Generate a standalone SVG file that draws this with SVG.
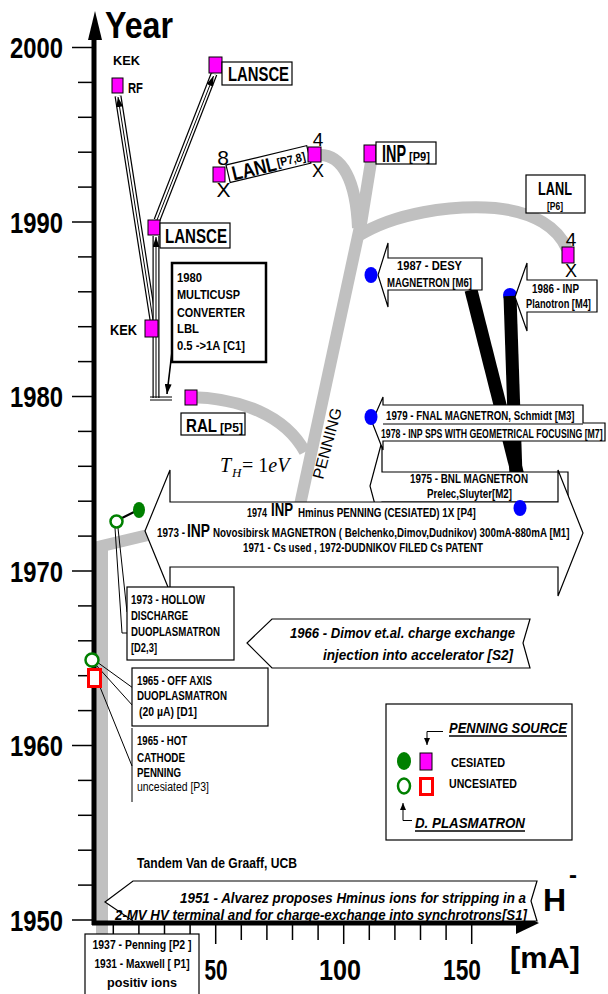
<svg xmlns="http://www.w3.org/2000/svg" width="608" height="994" viewBox="0 0 608 994">
<style>
text{font-family:"Liberation Sans",Arial,sans-serif;font-weight:bold;fill:#000}
.n{font-weight:normal}
.bi{font-style:italic}
.sq{fill:#ff00ff;stroke:#000;stroke-width:1}
.box{fill:#fff;stroke:#000;stroke-width:1.2}
.gray{fill:none;stroke:#c0c0c0;stroke-width:12}
.blk{fill:none;stroke:#000;stroke-width:13}
.tick{stroke:#000;stroke-width:1.5}
.blue{fill:#0000ff}
.t1{fill:none;stroke:#000;stroke-width:7}
.t2{fill:none;stroke:#fff;stroke-width:4.6}
.t3{fill:none;stroke:#000;stroke-width:1}
.ln{fill:none;stroke:#000;stroke-width:1}
.serif{font-family:"Liberation Serif","Times New Roman",serif;font-weight:normal}
</style>
<defs>
<marker id="ah" markerUnits="userSpaceOnUse" markerWidth="11" markerHeight="7" refX="10" refY="3.5" orient="auto"><path d="M0,0 L10,3.5 L0,7 z" fill="#000"/></marker>
<marker id="ahs" markerUnits="userSpaceOnUse" markerWidth="8" markerHeight="6" refX="7" refY="3" orient="auto"><path d="M0,0 L7,3 L0,6 z" fill="#000"/></marker>
</defs>
<rect x="0" y="0" width="608" height="994" fill="#fff"/>

<g id="penning-lines">
<path class="gray" d="M102,948 V546 L148,535"/>
<path class="gray" d="M189,397 C240,398 285,415 305,452"/>
<path class="gray" d="M361,222 L300,505" stroke-width="13"/>
<path class="gray" d="M320,155 C342,155 356,180 358,228"/>
<path class="gray" d="M371,162 L360,230"/>
<path class="gray" d="M358,236 C395,213 450,205 495,208 C535,212 558,228 567,249"/>
</g>

<g id="axes">
<line x1="94" y1="925" x2="94" y2="36" stroke="#000" stroke-width="5"/>
<polygon points="95,11 88,40 102,40" fill="#000"/>
<text x="105" y="38" font-size="36" textLength="68" lengthAdjust="spacingAndGlyphs">Year</text>
<g class="tick">
<line x1="72" y1="47.5" x2="92" y2="47.5"/><line x1="78" y1="82.4" x2="92" y2="82.4"/><line x1="78" y1="117.3" x2="92" y2="117.3"/><line x1="78" y1="152.2" x2="92" y2="152.2"/><line x1="78" y1="187.1" x2="92" y2="187.1"/>
<line x1="72" y1="222" x2="92" y2="222"/><line x1="78" y1="256.9" x2="92" y2="256.9"/><line x1="78" y1="291.8" x2="92" y2="291.8"/><line x1="78" y1="326.7" x2="92" y2="326.7"/><line x1="78" y1="361.6" x2="92" y2="361.6"/>
<line x1="72" y1="396.5" x2="92" y2="396.5"/><line x1="78" y1="431.4" x2="92" y2="431.4"/><line x1="78" y1="466.3" x2="92" y2="466.3"/><line x1="78" y1="501.2" x2="92" y2="501.2"/><line x1="78" y1="536.1" x2="92" y2="536.1"/>
<line x1="72" y1="571" x2="92" y2="571"/><line x1="78" y1="605.9" x2="92" y2="605.9"/><line x1="78" y1="640.8" x2="92" y2="640.8"/><line x1="78" y1="675.7" x2="92" y2="675.7"/><line x1="78" y1="710.6" x2="92" y2="710.6"/>
<line x1="72" y1="745.5" x2="92" y2="745.5"/><line x1="78" y1="780.4" x2="92" y2="780.4"/><line x1="78" y1="815.3" x2="92" y2="815.3"/><line x1="78" y1="850.2" x2="92" y2="850.2"/><line x1="78" y1="885.1" x2="92" y2="885.1"/>
<line x1="72" y1="920" x2="92" y2="920"/>
</g>
<g font-size="29">
<text x="10" y="58" textLength="53" lengthAdjust="spacingAndGlyphs">2000</text>
<text x="10" y="232.5" textLength="53" lengthAdjust="spacingAndGlyphs">1990</text>
<text x="10" y="407" textLength="53" lengthAdjust="spacingAndGlyphs">1980</text>
<text x="10" y="581.5" textLength="53" lengthAdjust="spacingAndGlyphs">1970</text>
<text x="10" y="756" textLength="53" lengthAdjust="spacingAndGlyphs">1960</text>
<text x="10" y="930.5" textLength="53" lengthAdjust="spacingAndGlyphs">1950</text>
</g>
<line x1="92" y1="923" x2="520" y2="923" stroke="#000" stroke-width="5"/>
<polygon points="516,912 539,923 516,934" fill="#000"/>
<g class="tick">
<line x1="113.3" y1="925" x2="113.3" y2="940"/><line x1="138.9" y1="925" x2="138.9" y2="940"/><line x1="164.5" y1="925" x2="164.5" y2="940"/><line x1="190.1" y1="925" x2="190.1" y2="940"/><line x1="215.7" y1="925" x2="215.7" y2="944"/>
<line x1="241.3" y1="925" x2="241.3" y2="940"/><line x1="266.9" y1="925" x2="266.9" y2="940"/><line x1="292.5" y1="925" x2="292.5" y2="940"/><line x1="318.1" y1="925" x2="318.1" y2="940"/><line x1="343.7" y1="925" x2="343.7" y2="944"/>
<line x1="369.3" y1="925" x2="369.3" y2="940"/><line x1="394.9" y1="925" x2="394.9" y2="940"/><line x1="420.5" y1="925" x2="420.5" y2="940"/><line x1="446.1" y1="925" x2="446.1" y2="940"/><line x1="471.7" y1="925" x2="471.7" y2="944"/>
</g>
<g font-size="30">
<text x="216" y="980" text-anchor="middle" textLength="23" lengthAdjust="spacingAndGlyphs">50</text>
<text x="340" y="980" text-anchor="middle" textLength="42" lengthAdjust="spacingAndGlyphs">100</text>
<text x="462" y="980" text-anchor="middle" textLength="38" lengthAdjust="spacingAndGlyphs">150</text>
<text x="510" y="968" textLength="70" lengthAdjust="spacingAndGlyphs">[mA]</text>
</g>
<text x="543" y="911" font-size="32">H<tspan dx="3" dy="-28" font-size="24">-</tspan></text>
</g>

<g id="magnetron-lines">
<circle class="blue" cx="510" cy="295" r="7"/>
<path class="blk" d="M471,290 L518,476"/>
<path class="blk" d="M510,296 L516,476" stroke-width="12"/>
</g>

<g id="connectors">
<path class="t1" d="M153,320 L118,96"/><path class="t2" d="M153,320 L118,96"/><path class="t3" d="M153,320 L118,97" marker-end="url(#ah)"/>
<path class="t1" d="M157,220 L214,74"/><path class="t2" d="M157,220 L214,74"/><path class="t3" d="M157,220 L213.5,76" marker-end="url(#ah)"/>
<path class="t1" d="M156,398 L156,236"/><path class="t2" d="M156,398 L156,236"/><path class="t3" d="M156,398 L156,237" marker-end="url(#ah)"/>
<line class="ln" x1="150" y1="397" x2="172" y2="397"/><line class="ln" x1="150" y1="400" x2="172" y2="400"/>
<path d="M175,326 L167,394" fill="none" stroke="#000" stroke-width="1.6" marker-end="url(#ah)"/>
<line x1="122" y1="518" x2="134" y2="512" stroke="#000" stroke-width="2"/>
<polyline class="ln" points="115,528 122,633 128,633"/>
<line class="ln" x1="118" y1="528" x2="127" y2="612"/>
<line class="ln" x1="97" y1="662" x2="133" y2="688"/>
<line class="ln" x1="96" y1="665" x2="133" y2="706"/>
<line class="ln" x1="100" y1="687" x2="132" y2="766"/>
<line class="ln" x1="132" y1="728" x2="132" y2="802"/>
</g>

<g id="kek-rf">
<text x="113" y="65" font-size="13" textLength="27" lengthAdjust="spacingAndGlyphs">KEK</text>
<rect class="sq" x="112" y="78" width="11" height="15"/>
<text x="128" y="93" font-size="14" textLength="15" lengthAdjust="spacingAndGlyphs">RF</text>
</g>
<g id="lansce-1998">
<rect class="sq" x="209" y="57" width="13" height="16"/>
<rect class="box" x="222" y="62" width="70" height="23"/>
<text x="228" y="81" font-size="20" textLength="61" lengthAdjust="spacingAndGlyphs">LANSCE</text>
</g>
<g id="lansce-1990">
<rect class="sq" x="148" y="220" width="12" height="15"/>
<rect class="box" x="160" y="223" width="70" height="25"/>
<text x="165" y="243" font-size="20" textLength="62" lengthAdjust="spacingAndGlyphs">LANSCE</text>
</g>
<g id="kek-1984">
<rect class="sq" x="145" y="320" width="13" height="17"/>
<text x="110" y="335" font-size="14" textLength="27" lengthAdjust="spacingAndGlyphs">KEK</text>
</g>
<g id="lanl-p78">
<g transform="translate(226,165) rotate(-13.5)">
<rect class="box" x="0" y="0" width="83" height="18"/>
<text x="4" y="17" font-size="20" textLength="45" lengthAdjust="spacingAndGlyphs">LANL</text>
<text x="50" y="14" font-size="12" textLength="29" lengthAdjust="spacingAndGlyphs">[P7,8]</text>
</g>
<rect class="sq" x="213" y="167" width="12" height="15"/>
<text class="n" x="223" y="165" font-size="21" text-anchor="middle">8</text>
<text class="n" x="223.5" y="197" font-size="21" text-anchor="middle">X</text>
<rect class="sq" x="308" y="147" width="13" height="15"/>
<text class="n" x="318" y="146" font-size="19" text-anchor="middle">4</text>
<text class="n" x="318" y="177" font-size="18" text-anchor="middle">X</text>
</g>
<g id="inp-p9">
<rect class="sq" x="364" y="145" width="12" height="17"/>
<rect class="box" x="376" y="142" width="60" height="22"/>
<text transform="translate(382,162) scale(0.627,1)" font-size="23">INP</text>
<text transform="translate(409,161) scale(0.855,1)" font-size="13">[P9]</text>
</g>
<g id="lanl-p6">
<rect class="box" x="526" y="175" width="59" height="38"/>
<text x="555" y="195" font-size="18" text-anchor="middle" textLength="34" lengthAdjust="spacingAndGlyphs">LANL</text>
<text x="555" y="210" font-size="11" text-anchor="middle" textLength="16" lengthAdjust="spacingAndGlyphs">[P6]</text>
<rect class="sq" x="562" y="247" width="12" height="16"/>
<text class="n" x="571" y="246" font-size="19" text-anchor="middle">4</text>
<text class="n" x="571" y="277" font-size="18" text-anchor="middle">X</text>
</g>
<g id="desy-1987">
<polygon class="box" points="388,258 482,258 482,290 388,290 388,307 378,275 388,243"/>
<text x="397" y="270" font-size="12.5" textLength="65" lengthAdjust="spacingAndGlyphs">1987 - DESY</text>
<text x="387" y="287" font-size="12.5" textLength="85" lengthAdjust="spacingAndGlyphs">MAGNETRON [M6]</text>
<ellipse class="blue" cx="371" cy="275" rx="6.5" ry="8"/>
</g>
<g id="inp-1986">
<polygon class="box" points="527,280 597,280 597,312 527,312 527,331 515,297 527,263"/>
<text x="532" y="293" font-size="12.5" textLength="47" lengthAdjust="spacingAndGlyphs">1986 - INP</text>
<text transform="translate(526,308) scale(0.774,1)" font-size="12">Planotron [M4]</text>
</g>
<g id="multicusp-1980">
<rect x="172" y="263" width="94" height="99" fill="#fff" stroke="#000" stroke-width="2.5"/>
<g font-size="13">
<text x="177" y="282" textLength="25" lengthAdjust="spacingAndGlyphs">1980</text>
<text x="177" y="299" textLength="63" lengthAdjust="spacingAndGlyphs">MULTICUSP</text>
<text x="177" y="317" textLength="68" lengthAdjust="spacingAndGlyphs">CONVERTER</text>
<text x="177" y="333" textLength="22" lengthAdjust="spacingAndGlyphs">LBL</text>
<text x="177" y="350" textLength="68" lengthAdjust="spacingAndGlyphs">0.5 -&gt;1A  [C1]</text>
</g>
</g>
<g id="ral-p5">
<rect class="sq" x="185" y="390" width="12" height="15"/>
<rect class="box" x="181" y="413" width="64" height="22"/>
<text transform="translate(186,432) scale(0.795,1)" font-size="19">RAL</text>
<text transform="translate(220,432) scale(0.936,1)" font-size="13">[P5]</text>
</g>
<g id="th-label">
<text class="serif" x="220" y="472" font-size="20" font-style="italic">T</text>
<text class="serif" x="232" y="477" font-size="13" font-style="italic">H</text>
<text class="serif" x="242" y="472" font-size="20">= 1<tspan font-style="italic">eV</tspan></text>
<text class="n" x="323" y="480" font-size="16" transform="rotate(-75 323 480)">PENNING</text>
</g>
<g id="bnl-1975">
<polygon class="box" points="382,472 568,472 568,502 382,502 382,531 370,486 382,441"/>
<text x="410" y="483" font-size="12.5" textLength="118" lengthAdjust="spacingAndGlyphs">1975 - BNL MAGNETRON</text>
<text x="427" y="498" font-size="12.5" textLength="85" lengthAdjust="spacingAndGlyphs">Prelec,Sluyter[M2]</text>
</g>
<g id="fnal-1979">
<polygon class="box" points="383,405 583,405 583,423 605,423 605,441 383,441 383,450 372,422 383,397"/>
<line class="ln" x1="383" y1="424" x2="583" y2="424"/>
<text transform="translate(386,420) scale(0.81,1)" font-size="12">1979 - FNAL MAGNETRON, Schmidt [M3]</text>
<text transform="translate(381,438) scale(0.727,1)" font-size="12">1978 - INP SPS WITH GEOMETRICAL FOCUSING [M7]</text>
<ellipse class="blue" cx="371" cy="417" rx="6.5" ry="8"/>
</g>
<g id="inp-1974">
<polygon class="box" points="170,502 558,502 558,470 583,533 558,596 558,567 170,567 170,592 145,531 170,470"/>
<text transform="translate(247,517) scale(0.72,1)" font-size="12.5">1974</text>
<text transform="translate(271,516) scale(0.694,1)" font-size="19">INP</text>
<text transform="translate(298,517) scale(0.786,1)" font-size="12.5">Hminus  PENNING (CESIATED) 1X  [P4]</text>
<text transform="translate(157,537) scale(0.79,1)" font-size="12.5">1973 -</text>
<text transform="translate(187,537) scale(0.726,1)" font-size="19">INP</text>
<text transform="translate(213,537) scale(0.785,1)" font-size="12.5">Novosibirsk MAGNETRON ( Belchenko,Dimov,Dudnikov) 300mA-880mA [M1]</text>
<text x="243" y="552" font-size="12.5" textLength="240" lengthAdjust="spacingAndGlyphs">1971 - Cs used , 1972-DUDNIKOV FILED Cs PATENT</text>
<ellipse class="blue" cx="520" cy="508" rx="6.5" ry="8"/>
</g>
<g id="hollow-1973">
<circle cx="116.5" cy="521.5" r="6" fill="#fff" stroke="#008000" stroke-width="2.5"/>
<ellipse cx="139" cy="510" rx="6" ry="8" fill="#008000"/>
<rect class="box" x="127" y="587" width="107" height="73"/>
<g font-size="13">
<text x="131" y="604" textLength="74" lengthAdjust="spacingAndGlyphs">1973 - HOLLOW</text>
<text x="131" y="620" textLength="57" lengthAdjust="spacingAndGlyphs">DISCHARGE</text>
<text x="131" y="636" textLength="89" lengthAdjust="spacingAndGlyphs">DUOPLASMATRON</text>
<text x="131" y="652" textLength="26" lengthAdjust="spacingAndGlyphs">[D2,3]</text>
</g>
</g>
<g id="dimov-1966">
<polygon class="box" points="272,619 530,619 523,643 530,668 272,668 247,643"/>
<text class="bi" x="515" y="638" font-size="15" text-anchor="end" textLength="225" lengthAdjust="spacingAndGlyphs">1966 - Dimov et.al. charge exchange</text>
<text class="bi" x="513" y="660" font-size="15" text-anchor="end" textLength="190" lengthAdjust="spacingAndGlyphs">injection into  accelerator  [S2]</text>
</g>
<g id="offaxis-1965">
<rect class="box" x="132" y="668" width="136" height="58"/>
<circle cx="92" cy="660" r="6.5" fill="#fff" stroke="#008000" stroke-width="2.5"/>
<g font-size="12.5">
<text x="137" y="685" textLength="75" lengthAdjust="spacingAndGlyphs">1965 - OFF AXIS</text>
<text x="137" y="700" textLength="90" lengthAdjust="spacingAndGlyphs">DUOPLASMATRON</text>
<text x="139" y="716" textLength="58" lengthAdjust="spacingAndGlyphs">(20 µA)  [D1]</text>
</g>
</g>
<g id="hotcathode-1965">
<rect x="88.5" y="669.5" width="12" height="17" fill="#fff" stroke="#ff0000" stroke-width="3"/>
<g font-size="12.5">
<text x="137" y="745" textLength="50" lengthAdjust="spacingAndGlyphs">1965 - HOT</text>
<text x="137" y="762" textLength="48" lengthAdjust="spacingAndGlyphs">CATHODE</text>
<text x="137" y="777" textLength="44" lengthAdjust="spacingAndGlyphs">PENNING</text>
<text class="n" x="137" y="791" textLength="72" lengthAdjust="spacingAndGlyphs">uncesiated [P3]</text>
</g>
</g>
<g id="legend">
<rect class="box" x="386" y="704" width="186" height="136"/>
<text class="bi" x="449" y="733" font-size="15" textLength="118" lengthAdjust="spacingAndGlyphs">PENNING SOURCE</text>
<line x1="449" y1="736" x2="567" y2="736" stroke="#000" stroke-width="1.5"/>
<polyline class="ln" points="443,731.5 427,731.5 427,745" marker-end="url(#ahs)"/>
<ellipse cx="404" cy="761" rx="7" ry="9" fill="#008000"/>
<rect class="sq" x="420" y="753" width="12" height="17"/>
<text x="451" y="767" font-size="12.5" textLength="54" lengthAdjust="spacingAndGlyphs">CESIATED</text>
<ellipse cx="404" cy="786" rx="6" ry="7.5" fill="#fff" stroke="#008000" stroke-width="2.5"/>
<rect x="420.5" y="778.5" width="12" height="16" fill="#fff" stroke="#ff0000" stroke-width="3"/>
<text x="449" y="788" font-size="12.5" textLength="68" lengthAdjust="spacingAndGlyphs">UNCESIATED</text>
<polyline class="ln" points="412,820.5 403,820.5 403,803" marker-end="url(#ahs)"/>
<text class="bi" x="415" y="828" font-size="15" textLength="110" lengthAdjust="spacingAndGlyphs">D. PLASMATRON</text>
<line x1="415" y1="831" x2="525" y2="831" stroke="#000" stroke-width="1.5"/>
</g>
<g id="tandem">
<text x="137" y="868" font-size="14" textLength="160" lengthAdjust="spacingAndGlyphs">Tandem Van de Graaff, UCB</text>
</g>
<g id="alvarez-1951">
<polygon class="box" points="133,881 537,881 531,901 537,921 133,921 105,902"/>
<text class="bi" transform="translate(180,903) scale(0.957,1)" font-size="14">1951 - Alvarez proposes Hminus ions for stripping in a</text>
<text class="bi" transform="translate(115,920) scale(0.949,1)" font-size="14">2-MV HV terminal and for charge-exchange into synchrotrons[S1]</text>
</g>
<g id="penning-1937">
<rect class="box" x="85" y="934" width="114" height="70"/>
<g font-size="12">
<text x="142" y="949" text-anchor="middle" textLength="99" lengthAdjust="spacingAndGlyphs">1937 - Penning [P2 ]</text>
<text x="142" y="968" text-anchor="middle" textLength="95" lengthAdjust="spacingAndGlyphs">1931 - Maxwell [ P1]</text>
<text x="142" y="987" text-anchor="middle" textLength="70" lengthAdjust="spacingAndGlyphs">positiv ions</text>
</g>
</g>
</svg>
